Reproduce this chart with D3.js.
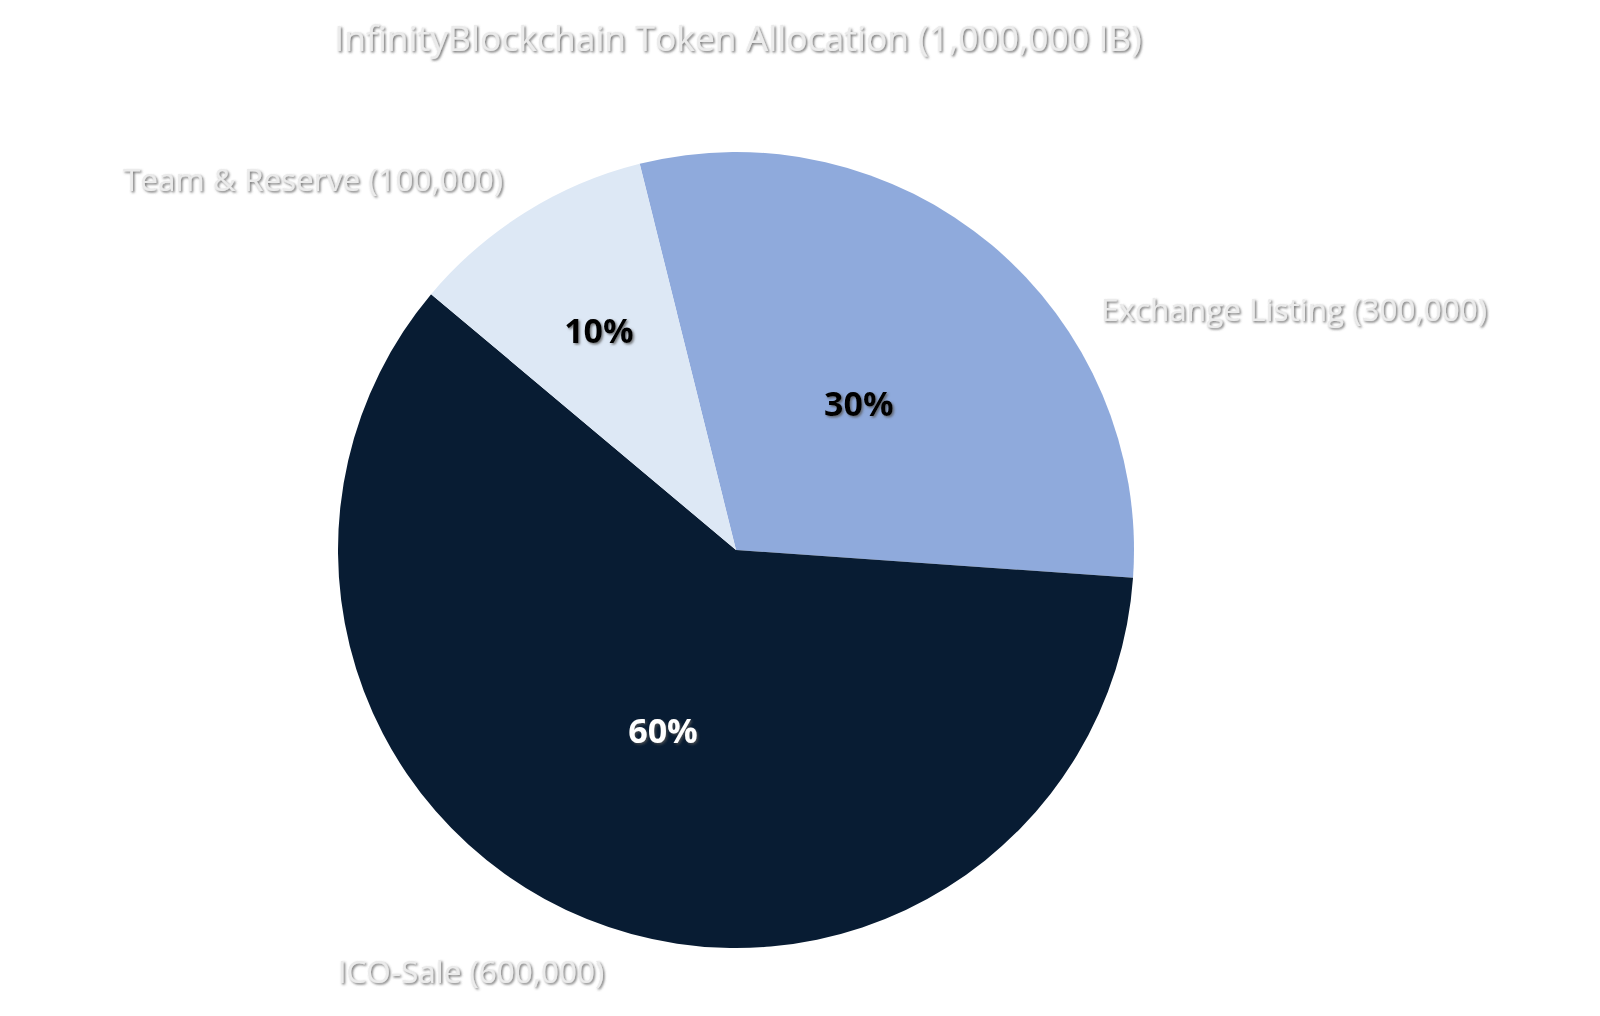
<!DOCTYPE html>
<html><head><meta charset="utf-8">
<script src="https://cdn.jsdelivr.net/npm/d3@7"></script>
<style>
body{margin:0;background:#fff;}
text{font-family:"Open Sans","Noto Sans",sans-serif;}
</style></head><body>
<svg id="chart" width="1600" height="1016"></svg>
<script>
const categories = ['Exchange Listing', 'ICO-Sale', 'Team & Reserve'];
const amounts = [300000, 600000, 100000];
const colors = ['#8faadc', '#081c33', '#dde8f5'];
const pctColors = ['#000', '#fff', '#000'];
const pctRadius = [0.48, 0.49, 0.65];
const labelPos = [[1294, 310], [471, 972], [313, 180]];

const svg = d3.select('#chart');
const defs = svg.append('defs');
const f = defs.append('filter').attr('id', 'sh').attr('x', '-10%').attr('y', '-30%').attr('width', '120%').attr('height', '160%');
f.append('feDropShadow').attr('dx', 1.5).attr('dy', 1.5).attr('stdDeviation', 1).attr('flood-color', '#555').attr('flood-opacity', 0.8);

const cx = 736, cy = 550, r = 398;
const total = d3.sum(amounts);
const pie = d3.pie().sort(null).value(d => d)
    .startAngle(-14 * Math.PI / 180).endAngle(346 * Math.PI / 180);
const arc = d3.arc().innerRadius(0).outerRadius(r);
const arcs = pie(amounts);

const g = svg.append('g').attr('transform', `translate(${cx},${cy})`);
g.selectAll('path').data(arcs).join('path')
    .attr('d', arc).attr('fill', (d, i) => colors[i]);

g.selectAll('text.pct').data(arcs).join('text')
    .attr('class', 'pct')
    .attr('transform', (d, i) => {
        const a = d3.arc().innerRadius(r * pctRadius[i]).outerRadius(r * pctRadius[i]);
        return `translate(${a.centroid(d)})`;
    })
    .attr('text-anchor', 'middle').attr('dy', '0.35em')
    .attr('font-size', 34).attr('font-weight', 'bold')
    .attr('fill', (d, i) => pctColors[i])
    .attr('filter', 'url(#sh)')
    .text(d => Math.round(d.data / total * 100) + '%');

svg.selectAll('text.lbl').data(categories).join('text')
    .attr('class', 'lbl')
    .attr('x', (d, i) => labelPos[i][0]).attr('y', (d, i) => labelPos[i][1])
    .attr('text-anchor', 'middle').attr('dy', '0.35em')
    .attr('font-size', 31.5).attr('fill', '#ebebeb').attr('filter', 'url(#sh)')
    .text((d, i) => `${d} (${d3.format(',')(amounts[i])})`);

svg.append('text').attr('x', 738).attr('y', 39).attr('dy', '0.35em')
    .attr('text-anchor', 'middle').attr('font-size', 35.5).attr('fill', '#ebebeb')
    .attr('filter', 'url(#sh)')
    .text(`InfinityBlockchain Token Allocation (${d3.format(',')(total)} IB)`);
</script>
</body></html>
